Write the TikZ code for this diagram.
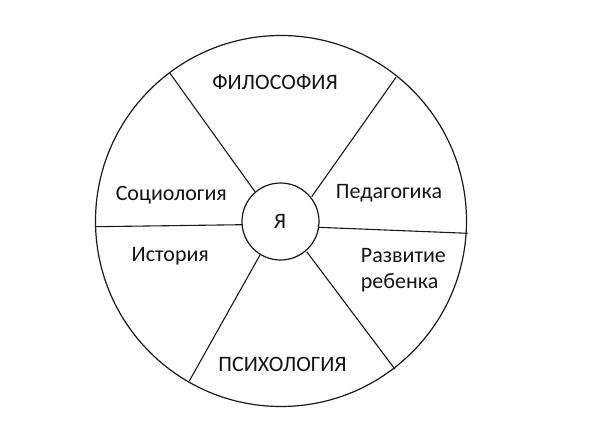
\documentclass[tikz,border=0pt]{standalone}
\usepackage{fontspec}
\setmainfont{Carlito}
\begin{document}
\begin{tikzpicture}[x=1pt,y=-1pt,
  ring/.style={draw=black!90,line width=1.2pt},
  spoke/.style={draw=black!90,line width=1.1pt},
  lbl/.style={font=\fontsize{22}{26}\selectfont,text=black!92,inner sep=0pt,anchor=base}]
\useasboundingbox (0,0) rectangle (591,444);
\fill[white] (0,0) rectangle (591,444);
% circles
\coordinate (C) at (281,221);
\node[ring,circle,minimum size=371pt,inner sep=0pt] (big) at (C) {};
\node[ring,circle,minimum size=77pt,inner sep=0pt,fill=white] (me) at (280.5,221.5) {};
% spoke ends
\coordinate (ulo) at (170,73.3);   \coordinate (uli) at (255,191.7);
\coordinate (uro) at (396,77.3);   \coordinate (uri) at (311.7,196.7);
\coordinate (lo) at (95,226.7);    \coordinate (li) at (242.3,224.7);
\coordinate (ro) at (467.7,233.3); \coordinate (ri) at (318.3,227.3);
\coordinate (llo) at (189.3,381);  \coordinate (lli) at (260,255);
\coordinate (lro) at (395,369.3);  \coordinate (lri) at (306.7,251.7);
\draw[spoke] (ulo) -- (uli);
\draw[spoke] (uro) -- (uri);
\draw[spoke] (lo) -- (li);
\draw[spoke] (ro) -- (ri);
\draw[spoke] (llo) -- (lli);
\draw[spoke] (lro) -- (lri);
% labels
\node[lbl] (ya) at (280,228) {Я};
\node[lbl] (fil) at (275,89.3) {ФИЛОСОФИЯ};
\node[lbl] (soc) at (171.3,200.7) {Социология};
\node[lbl] (ped) at (389,198.3) {Педагогика};
\node[lbl] (ist) at (170.3,261.7) {История};
\node[lbl,anchor=base west] (raz) at (360.7,262.3) {Развитие};
\node[lbl,anchor=base west] (reb) at (360.7,288.3) {ребенка};
\node[lbl] (psi) at (282.5,371.7) {ПСИХОЛОГИЯ};
\end{tikzpicture}
\end{document}
